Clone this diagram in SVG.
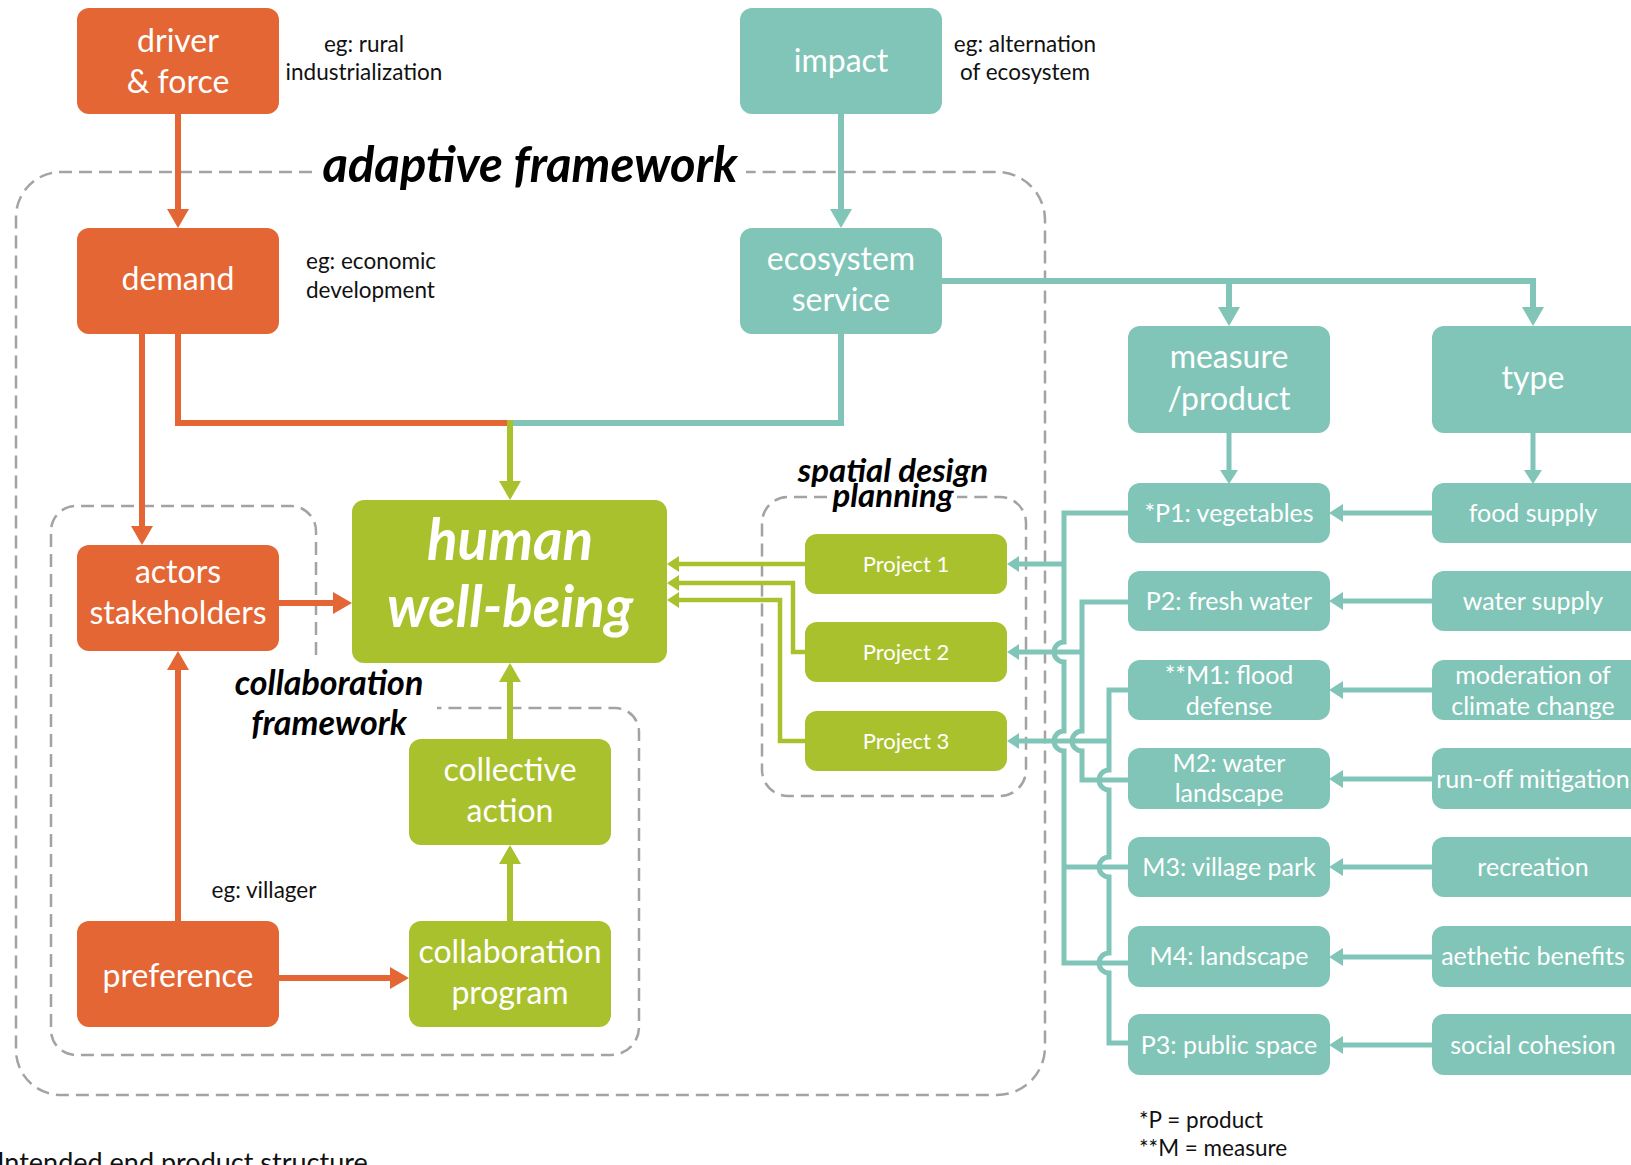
<svg xmlns="http://www.w3.org/2000/svg" width="1631" height="1165" viewBox="0 0 1631 1165">
<style>
.o{fill:#E46634}.t{fill:#80C5B7}.g{fill:#AAC12E}
text{font-family:Lato,"Open Sans","DejaVu Sans",sans-serif}
.lb{fill:#fff;font-size:32px;text-anchor:middle}
.sm{font-size:25px}
.pj{font-size:22px}
.nt{fill:#111;font-size:22.5px}
.ti{fill:#000;font-weight:bold;font-style:italic;text-anchor:middle}
.hw{fill:#fff;font-weight:bold;font-style:italic;text-anchor:middle;font-size:56.5px}
.dash{fill:none;stroke:#A3A3A3;stroke-width:2.5;stroke-dasharray:13 7}
.lo{fill:none;stroke:#E46634;stroke-width:6}
.lt{fill:none;stroke:#80C5B7;stroke-width:6}
.ltn{fill:none;stroke:#80C5B7;stroke-width:5}
.lg{fill:none;stroke:#AAC12E;stroke-width:6}
.lgn{fill:none;stroke:#AAC12E;stroke-width:4.5}
</style>
<defs>
<marker id="ao" markerUnits="userSpaceOnUse" markerWidth="20" markerHeight="23" refX="9" refY="11" orient="auto" viewBox="0 0 20 22"><path d="M0,0 L19,11 L0,22 Z" fill="#E46634"/></marker>
<marker id="at" markerUnits="userSpaceOnUse" markerWidth="20" markerHeight="23" refX="9" refY="11" orient="auto" viewBox="0 0 20 22"><path d="M0,0 L19,11 L0,22 Z" fill="#80C5B7"/></marker>
<marker id="ag" markerUnits="userSpaceOnUse" markerWidth="20" markerHeight="23" refX="9" refY="11" orient="auto" viewBox="0 0 20 22"><path d="M0,0 L19,11 L0,22 Z" fill="#AAC12E"/></marker>
<marker id="atm" markerUnits="userSpaceOnUse" markerWidth="15" markerHeight="18" refX="5" refY="9" orient="auto" viewBox="0 0 15 18"><path d="M0,0 L14,9 L0,18 Z" fill="#80C5B7"/></marker>
<marker id="ats" markerUnits="userSpaceOnUse" markerWidth="13" markerHeight="16" refX="4" refY="8" orient="auto" viewBox="0 0 13 16"><path d="M0,0 L12,8 L0,16 Z" fill="#80C5B7"/></marker>
<marker id="ags" markerUnits="userSpaceOnUse" markerWidth="13" markerHeight="16" refX="4" refY="8" orient="auto" viewBox="0 0 13 16"><path d="M0,0 L12,8 L0,16 Z" fill="#AAC12E"/></marker>
</defs>

<g id="frames">
<path class="dash" d="M312,172 H61 A45,45 0 0 0 16,217 V1050 A45,45 0 0 0 61,1095 H997 A48,48 0 0 0 1045,1047 V220 A48,48 0 0 0 997,172 H746"/>
<path class="dash" d="M316,655 V531 A25,25 0 0 0 291,506 H76 A25,25 0 0 0 51,531 V1030 A25,25 0 0 0 76,1055 H611 A28,28 0 0 0 639,1027 V732 A24,24 0 0 0 615,708 H437"/>
<path class="dash" d="M827,497 H788 A26,26 0 0 0 762,523 V770 A26,26 0 0 0 788,796 H1000 A26,26 0 0 0 1026,770 V523 A26,26 0 0 0 1000,497 H957"/>
<text class="ti" x="530" y="182" style="font-size:49px">adaptive framework</text>
<text class="ti" x="329" y="695" style="font-size:34px">collaboration</text>
<text class="ti" x="329" y="735" style="font-size:34px">framework</text>
<text class="ti" x="893" y="482" style="font-size:33px">spatial design</text>
<text class="ti" x="893" y="507" style="font-size:33px">planning</text>
</g>

<g id="connectors">
<path class="lo" d="M178,114 V218" marker-end="url(#ao)"/>
<path class="lo" d="M142,334 V535" marker-end="url(#ao)"/>
<path class="lo" d="M178,334 V423 H510"/>
<path class="lo" d="M279,603 H342" marker-end="url(#ao)"/>
<path class="lo" d="M178,921 V661" marker-end="url(#ao)"/>
<path class="lo" d="M279,978 H399" marker-end="url(#ao)"/>
<path class="lt" d="M841,114 V218" marker-end="url(#at)"/>
<path class="lt" d="M841,334 V423 H510"/>
<path class="lt" d="M942,281 H1533 V316" marker-end="url(#at)"/>
<path class="lt" d="M1229,281 V316" marker-end="url(#at)"/>
<path class="ltn" d="M1229,433 V475" marker-end="url(#atm)"/>
<path class="ltn" d="M1533,433 V475" marker-end="url(#atm)"/>
<path class="ltn" d="M1432,513 H1338" marker-end="url(#atm)"/>
<path class="ltn" d="M1432,601 H1338" marker-end="url(#atm)"/>
<path class="ltn" d="M1432,690 H1338" marker-end="url(#atm)"/>
<path class="ltn" d="M1432,779 H1338" marker-end="url(#atm)"/>
<path class="ltn" d="M1432,867 H1338" marker-end="url(#atm)"/>
<path class="ltn" d="M1432,957 H1338" marker-end="url(#atm)"/>
<path class="ltn" d="M1432,1045 H1338" marker-end="url(#atm)"/>
<path class="lg" d="M510,420 V490" marker-end="url(#ag)"/>
<path class="lg" d="M510,739 V673" marker-end="url(#ag)"/>
<path class="lg" d="M510,921 V855" marker-end="url(#ag)"/>
<path class="lgn" d="M805,564 H675" marker-end="url(#ags)"/>
<path class="lgn" d="M805,652 H793 V583 H675" marker-end="url(#ags)"/>
<path class="lgn" d="M805,741 H780 V600 H675" marker-end="url(#ags)"/>
<path class="ltn" d="M1128,513 H1064 V642 a10,10 0 0 0 0,20 V731 a10,10 0 0 0 0,20 V963 H1128"/>
<path class="ltn" d="M1064,867 H1128"/>
<path class="ltn" d="M1064,564 H1015" marker-end="url(#ats)"/>
<path class="ltn" d="M1128,602 H1082 V731 a10,10 0 0 0 0,20 V780 H1128"/>
<path class="ltn" d="M1082,652 H1015" marker-end="url(#ats)"/>
<path class="ltn" d="M1128,690 H1109 V770 a10,10 0 0 0 0,20 V857 a10,10 0 0 0 0,20 V953 a10,10 0 0 0 0,20 V1043 H1128"/>
<path class="ltn" d="M1109,741 H1015" marker-end="url(#ats)"/>
</g>

<g id="driver"><rect class="o" x="77" y="8" width="202" height="106" rx="12"/><text class="lb" x="178" y="52">driver</text><text class="lb" x="178" y="93">&amp; force</text></g>
<g id="impact"><rect class="t" x="740" y="8" width="202" height="106" rx="12"/><text class="lb" x="841" y="72">impact</text></g>
<g id="demand"><rect class="o" x="77" y="228" width="202" height="106" rx="12"/><text class="lb" x="178" y="290">demand</text></g>
<g id="ecosystem"><rect class="t" x="740" y="228" width="202" height="106" rx="12"/><text class="lb" x="841" y="270">ecosystem</text><text class="lb" x="841" y="311">service</text></g>
<g id="measure"><rect class="t" x="1128" y="326" width="202" height="107" rx="12"/><text class="lb" x="1229" y="368">measure</text><text class="lb" x="1229" y="410">/product</text></g>
<g id="type"><rect class="t" x="1432" y="326" width="210" height="107" rx="12"/><text class="lb" x="1533" y="389">type</text></g>
<g id="hwb"><rect class="g" x="352" y="500" width="315" height="163" rx="12"/><text class="hw" x="510" y="560">human</text><text class="hw" x="510" y="627">well-being</text></g>
<g id="actors"><rect class="o" x="77" y="545" width="202" height="106" rx="12"/><text class="lb" x="178" y="583">actors</text><text class="lb" x="178" y="624">stakeholders</text></g>
<g id="collective"><rect class="g" x="409" y="739" width="202" height="106" rx="12"/><text class="lb" x="510" y="781">collective</text><text class="lb" x="510" y="822">action</text></g>
<g id="preference"><rect class="o" x="77" y="921" width="202" height="106" rx="12"/><text class="lb" x="178" y="987">preference</text></g>
<g id="program"><rect class="g" x="409" y="921" width="202" height="106" rx="12"/><text class="lb" x="510" y="963">collaboration</text><text class="lb" x="510" y="1004">program</text></g>
<g id="project1"><rect class="g" x="805" y="534" width="202" height="60" rx="12"/><text class="lb pj" x="906" y="572">Project 1</text></g>
<g id="project2"><rect class="g" x="805" y="622" width="202" height="60" rx="12"/><text class="lb pj" x="906" y="660">Project 2</text></g>
<g id="project3"><rect class="g" x="805" y="711" width="202" height="60" rx="12"/><text class="lb pj" x="906" y="749">Project 3</text></g>

<g id="p1"><rect class="t" x="1128" y="483" width="202" height="60" rx="12"/><text class="lb sm" x="1229" y="522">*P1: vegetables</text></g>
<g id="food"><rect class="t" x="1432" y="483" width="210" height="60" rx="12"/><text class="lb sm" x="1533" y="522">food supply</text></g>
<g id="p2"><rect class="t" x="1128" y="571" width="202" height="60" rx="12"/><text class="lb sm" x="1229" y="610">P2: fresh water</text></g>
<g id="water"><rect class="t" x="1432" y="571" width="210" height="60" rx="12"/><text class="lb sm" x="1533" y="610">water supply</text></g>
<g id="m1"><rect class="t" x="1128" y="660" width="202" height="60" rx="12"/><text class="lb sm" x="1229" y="684">**M1: flood</text><text class="lb sm" x="1229" y="715">defense</text></g>
<g id="climate"><rect class="t" x="1432" y="660" width="210" height="60" rx="12"/><text class="lb sm" x="1533" y="684">moderation of</text><text class="lb sm" x="1533" y="715">climate change</text></g>
<g id="m2"><rect class="t" x="1128" y="748" width="202" height="61" rx="12"/><text class="lb sm" x="1229" y="772">M2: water</text><text class="lb sm" x="1229" y="802">landscape</text></g>
<g id="runoff"><rect class="t" x="1432" y="748" width="210" height="61" rx="12"/><text class="lb sm" x="1533" y="788">run-off mitigation</text></g>
<g id="m3"><rect class="t" x="1128" y="837" width="202" height="60" rx="12"/><text class="lb sm" x="1229" y="876">M3: village park</text></g>
<g id="recreation"><rect class="t" x="1432" y="837" width="210" height="60" rx="12"/><text class="lb sm" x="1533" y="876">recreation</text></g>
<g id="m4"><rect class="t" x="1128" y="926" width="202" height="61" rx="12"/><text class="lb sm" x="1229" y="965">M4: landscape</text></g>
<g id="aesthetic"><rect class="t" x="1432" y="926" width="210" height="61" rx="12"/><text class="lb sm" x="1533" y="965">aethetic benefits</text></g>
<g id="p3"><rect class="t" x="1128" y="1014" width="202" height="61" rx="12"/><text class="lb sm" x="1229" y="1054">P3: public space</text></g>
<g id="social"><rect class="t" x="1432" y="1014" width="210" height="61" rx="12"/><text class="lb sm" x="1533" y="1054">social cohesion</text></g>

<g id="notes">
<text class="nt" x="364" y="52" text-anchor="middle">eg: rural</text>
<text class="nt" x="364" y="80" text-anchor="middle">industrialization</text>
<text class="nt" x="1025" y="52" text-anchor="middle">eg: alternation</text>
<text class="nt" x="1025" y="80" text-anchor="middle">of ecosystem</text>
<text class="nt" x="306" y="269">eg: economic</text>
<text class="nt" x="306" y="298">development</text>
<text class="nt" x="264" y="898" text-anchor="middle">eg: villager</text>
<text class="nt" x="1139" y="1128">*P = product</text>
<text class="nt" x="1139" y="1156">**M = measure</text>
<text class="nt" x="-3" y="1172" style="font-size:27px">Intended end product structure</text>
</g>
</svg>
